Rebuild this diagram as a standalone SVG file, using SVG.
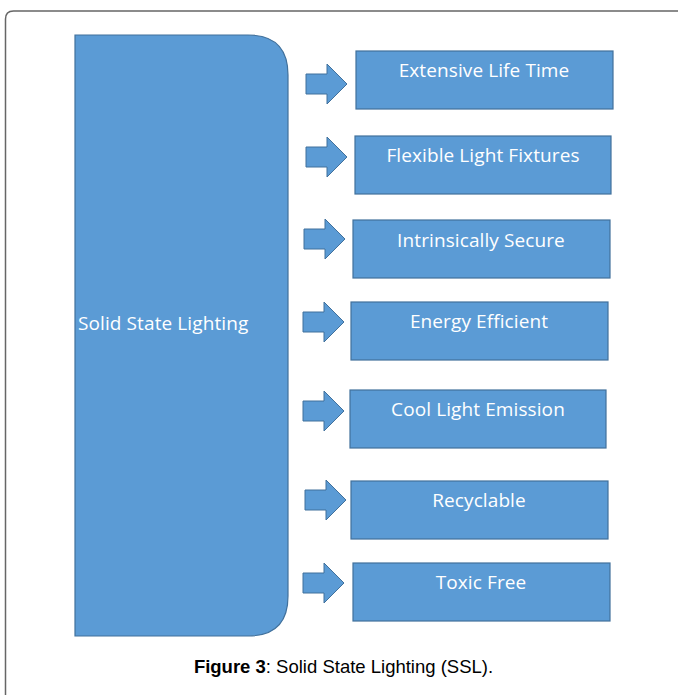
<svg xmlns="http://www.w3.org/2000/svg" xmlns:xlink="http://www.w3.org/1999/xlink" width="678" height="695" viewBox="0 0 678 695">
<style>
.box{fill:#5B9BD5;stroke:#41719C;stroke-width:1.2}
.arrow{fill:#5B9BD5;stroke:#41719C;stroke-width:1}
.lbl{font-family:"Open Sans","Liberation Sans",sans-serif;font-size:19px;letter-spacing:0.1px;fill:#ffffff;text-anchor:middle}
.cap{font-family:"Liberation Sans",Arial,sans-serif;font-size:18.5px;fill:#000000;text-anchor:middle}
</style>
<defs>
<polygon id="arr" class="arrow" points="0,-10 21,-10 21,-20 41,0 21,20 21,10 0,10"/>
</defs>
<rect width="678" height="695" fill="#ffffff"/>
<path d="M5.5,700 L5.5,19 Q5.5,11 13.5,11 L690,11" fill="none" stroke="#666666" stroke-width="1.5"/>
<g id="main">
<path class="box" d="M75,35 L248,35 Q288,35 288,75 L288,596 Q288,636 248,636 L75,636 Z"/>
<text class="lbl" x="78" y="330" style="text-anchor:start">Solid State Lighting</text>
</g>
<g id="connectors">
<use xlink:href="#arr" x="306" y="84"/>
<use xlink:href="#arr" x="306" y="157"/>
<use xlink:href="#arr" x="304" y="239"/>
<use xlink:href="#arr" x="303" y="322"/>
<use xlink:href="#arr" x="303" y="411"/>
<use xlink:href="#arr" x="305" y="500"/>
<use xlink:href="#arr" x="303" y="583"/>
</g>
<g id="n1"><rect class="box" x="356" y="51" width="257" height="58"/><text class="lbl" x="484" y="77">Extensive Life Time</text></g>
<g id="n2"><rect class="box" x="355" y="136" width="256" height="58"/><text class="lbl" x="483" y="162">Flexible Light Fixtures</text></g>
<g id="n3"><rect class="box" x="353" y="220" width="257" height="58"/><text class="lbl" x="481" y="247">Intrinsically Secure</text></g>
<g id="n4"><rect class="box" x="351" y="302" width="257" height="58"/><text class="lbl" x="479" y="328">Energy Efficient</text></g>
<g id="n5"><rect class="box" x="350" y="390" width="256" height="58"/><text class="lbl" x="478" y="416">Cool Light Emission</text></g>
<g id="n6"><rect class="box" x="351" y="481" width="257" height="58"/><text class="lbl" x="479" y="507">Recyclable</text></g>
<g id="n7"><rect class="box" x="353" y="563" width="257" height="58"/><text class="lbl" x="481" y="589">Toxic Free</text></g>
<text class="cap" x="343.5" y="673"><tspan font-weight="bold">Figure 3</tspan>: Solid State Lighting (SSL).</text>
</svg>
